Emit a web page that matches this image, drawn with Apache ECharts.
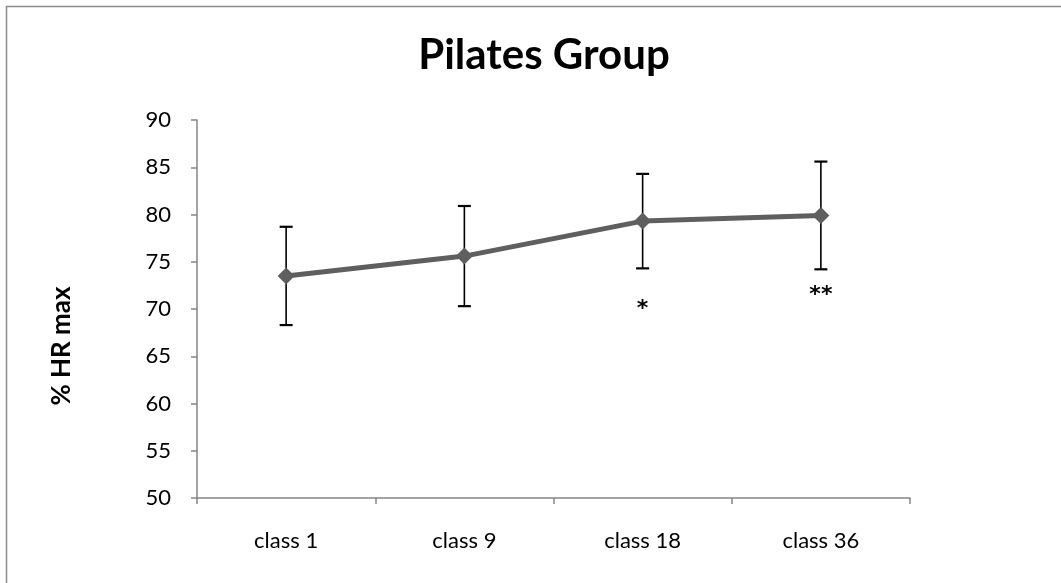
<!DOCTYPE html>
<html>
<head>
<meta charset="utf-8">
<script src="https://cdn.jsdelivr.net/npm/echarts@6/dist/echarts.min.js"></script>
<style>
  html, body { margin: 0; padding: 0; background: #fff; }
  #chart { width: 1061px; height: 583px; }
</style>
</head>
<body>
<div id="chart"></div>
<script>
// Mean %HR max per class with standard deviation
const categories = ['class 1', 'class 9', 'class 18', 'class 36'];
const meanHR = [73.5, 75.6, 79.3, 79.9];
const sdHR = [5.2, 5.3, 5.0, 5.7];
// Significance markers and the value level they sit at
const sigMarks = ['', '', '*', '**'];
const sigLevel = [null, null, 70.0, 71.5];
const yTicks = [50, 55, 60, 65, 70, 75, 80, 85, 90];

const FONT = 'Lato, "Open Sans", sans-serif';
const chart = echarts.init(document.getElementById('chart'));

const errData = categories.map((c, i) => [i, meanHR[i] - sdHR[i], meanHR[i] + sdHR[i]]);
const sigData = categories.map((c, i) => [i, sigLevel[i], sigMarks[i]]).filter(d => d[2]);

chart.setOption({
  animation: false,
  backgroundColor: '#fff',
  graphic: [{
    type: 'rect',
    shape: { x: 6.5, y: 6.5, width: 1100, height: 700 },
    style: { fill: 'none', stroke: '#8c8c8c', lineWidth: 1.5 },
    silent: true
  }],
  title: {
    text: 'Pilates Group',
    left: 539, top: 29, textAlign: 'center',
    textStyle: { fontFamily: FONT, fontWeight: 'bold', fontSize: 42, color: '#000' }
  },
  grid: { left: 197, right: 151, top: 120, bottom: 85, containLabel: false },
  xAxis: {
    type: 'category',
    data: categories,
    boundaryGap: true,
    axisLine: { lineStyle: { color: '#868686', width: 1.5 } },
    axisTick: { show: true, length: 6, lineStyle: { color: '#868686', width: 1.5 } },
    axisLabel: { fontFamily: FONT, fontSize: 22, color: '#000', margin: 32 },
    splitLine: { show: false }
  },
  yAxis: {
    type: 'value',
    min: yTicks[0], max: yTicks[yTicks.length - 1], interval: 5,
    name: '% HR max',
    nameLocation: 'middle',
    nameGap: 122,
    nameRotate: 90,
    nameTextStyle: { fontFamily: FONT, fontWeight: 'bold', fontSize: 26, color: '#000', padding: [0, 74, 0, 0] },
    axisLine: { show: true, lineStyle: { color: '#868686', width: 1.5 } },
    axisTick: { show: true, length: 6, lineStyle: { color: '#868686', width: 1.5 } },
    axisLabel: { fontFamily: FONT, fontSize: 22, color: '#000', margin: 26 },
    splitLine: { show: false }
  },
  series: [
    {
      type: 'custom',
      name: 'sd',
      data: errData,
      z: 1,
      renderItem: function (params, api) {
        const x = api.coord([api.value(0), api.value(1)])[0];
        const lo = api.coord([api.value(0), api.value(1)])[1];
        const hi = api.coord([api.value(0), api.value(2)])[1];
        const half = 6.5;
        const capStyle = { stroke: '#000', lineWidth: 2.2 };
        return {
          type: 'group',
          children: [
            { type: 'line', shape: { x1: x, y1: lo, x2: x, y2: hi }, style: { stroke: '#000', lineWidth: 1.6 } },
            { type: 'line', shape: { x1: x - half, y1: hi, x2: x + half, y2: hi }, style: capStyle },
            { type: 'line', shape: { x1: x - half, y1: lo, x2: x + half, y2: lo }, style: capStyle }
          ]
        };
      }
    },
    {
      type: 'line',
      name: 'mean',
      data: meanHR,
      z: 2,
      symbol: 'diamond',
      symbolSize: 17,
      lineStyle: { color: '#5f5f5f', width: 5 },
      itemStyle: { color: '#5f5f5f' }
    },
    {
      type: 'custom',
      name: 'sig',
      data: sigData,
      z: 3,
      renderItem: function (params, api) {
        const p = api.coord([api.value(0), api.value(1)]);
        return {
          type: 'text',
          x: p[0], y: p[1],
          style: {
            text: sigData[params.dataIndex][2],
            fontFamily: '"DejaVu Sans", sans-serif', fontWeight: 'bold', fontSize: 22, fill: '#000',
            align: 'center', verticalAlign: 'middle'
          }
        };
      }
    }
  ]
});
</script>
</body>
</html>
